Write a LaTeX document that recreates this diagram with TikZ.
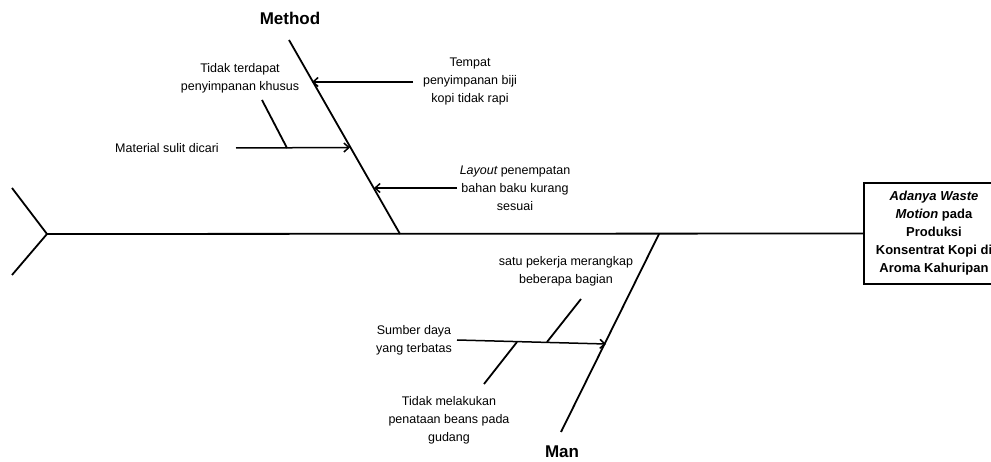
\documentclass[tikz,border=0pt]{standalone}
\usepackage{fontspec}
\setmainfont{Liberation Sans}
\usetikzlibrary{arrows.meta}
\begin{document}
\begin{tikzpicture}[x=1pt,y=-1pt,
  bone/.style={line width=1.8pt},
  cause/.style={line width=1.5pt,-{Straight Barb[length=5pt,width=9pt]}},
  lbl/.style={font=\fontsize{12.5}{18}\selectfont, align=center, inner sep=0pt},
  ttl/.style={font=\fontsize{17}{20}\selectfont\bfseries, inner sep=0pt},
  effect/.style={draw, line width=1.3pt, font=\fontsize{13}{18}\selectfont\bfseries, align=center, minimum width=140pt, minimum height=101pt, inner sep=0pt}]
\clip (0,0) rectangle (991,462);
\useasboundingbox (0,0) rectangle (991,462);
% effect box
\node[effect] (eff) at (934,233.5) {{\itshape Adanya Waste}\\ {\itshape Motion} pada\\ Produksi\\ Konsentrat Kopi di\\ Aroma Kahuripan};
% spine and tail
\coordinate (tail) at (47,234);
\coordinate (t1) at (12,188);
\coordinate (t2) at (12,275);
\draw[bone] (t1) -- (tail) -- (t2);
\draw[bone] (tail) -- (eff.west);
% Method bone
\coordinate (mtop) at (289,40);
\coordinate (mbot) at (400,234);
\draw[bone] (mtop) -- (mbot);
\node[ttl] (method) at (290,18) {Method};
% cause 1
\node[lbl] (l1) at (470,82) {Tempat\\ penyimpanan biji\\ kopi tidak rapi};
\coordinate (c1s) at (413,82);
\coordinate (c1e) at (312,82);
\draw[cause] (c1s) -- (c1e);
% cause 2 with sub
\node[lbl] (l2) at (167,148) {Material sulit dicari};
\coordinate (c2s) at (236,148);
\coordinate (c2e) at (350,147.5);
\draw[cause] (c2s) -- (c2e);
\node[lbl] (l2a) at (240,78) {Tidak terdapat\\ penyimpanan khusus};
\coordinate (s2a) at (262,100);
\coordinate (s2b) at (287,148);
\draw[bone] (s2a) -- (s2b);
% cause 3
\node[lbl] (l3) at (515,188) {{\itshape Layout} penempatan\\ bahan baku kurang\\ sesuai};
\coordinate (c3s) at (457,188);
\coordinate (c3e) at (374,188);
\draw[cause] (c3s) -- (c3e);
% Man bone
\coordinate (mantop) at (659,234);
\coordinate (manbot) at (561,432);
\draw[bone] (mantop) -- (manbot);
\node[ttl] (man) at (562,452) {Man};
% cause 4
\node[lbl] (l4) at (414,340) {Sumber daya\\ yang terbatas};
\coordinate (c4s) at (457,340);
\coordinate (c4e) at (606,344);
\draw[cause] (c4s) -- (c4e);
\node[lbl] (l4a) at (566,271) {satu pekerja merangkap\\ beberapa bagian};
\coordinate (s4a) at (581,299);
\coordinate (s4b) at (547,342);
\draw[bone] (s4a) -- (s4b);
\node[lbl] (l4b) at (449,420) {Tidak melakukan\\ penataan beans pada\\ gudang};
\coordinate (s4c) at (517,342);
\coordinate (s4d) at (484,384);
\draw[bone] (s4c) -- (s4d);
\end{tikzpicture}
\end{document}
